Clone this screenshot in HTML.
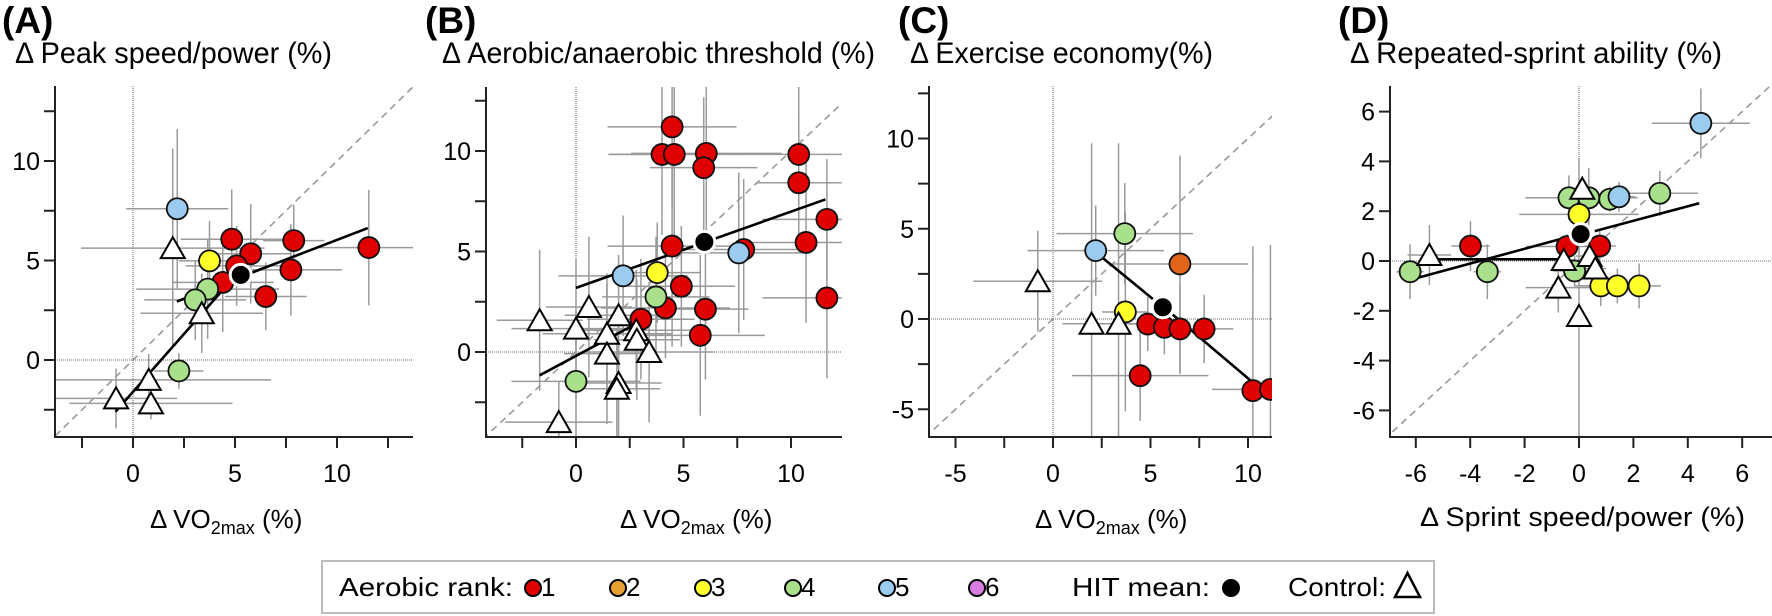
<!DOCTYPE html>
<html><head><meta charset="utf-8">
<style>
html,body{margin:0;padding:0;background:#fff;}
svg{display:block;font-family:"Liberation Sans",Arial,sans-serif;}
</style></head>
<body>
<svg id="chart" width="1772" height="616" viewBox="0 0 1772 616" xmlns="http://www.w3.org/2000/svg">
<g>
<text x="2" y="33" font-size="37" font-weight="bold">(A)</text>
<text x="15" y="63" font-size="30" textLength="317" lengthAdjust="spacingAndGlyphs">Δ Peak speed/power (%)</text>
<text x="425" y="33" font-size="37" font-weight="bold">(B)</text>
<text x="442" y="63" font-size="30" textLength="433" lengthAdjust="spacingAndGlyphs">Δ Aerobic/anaerobic threshold (%)</text>
<text x="898" y="33" font-size="37" font-weight="bold">(C)</text>
<text x="910" y="63" font-size="30" textLength="303" lengthAdjust="spacingAndGlyphs">Δ Exercise economy(%)</text>
<text x="1338" y="33" font-size="37" font-weight="bold">(D)</text>
<text x="1350" y="63" font-size="30" textLength="372" lengthAdjust="spacingAndGlyphs">Δ Repeated-sprint ability (%)</text>
</g>
<g font-size="26">
<text x="150" y="528">Δ VO<tspan font-size="18" dy="6">2max</tspan><tspan dy="-6"> (%)</tspan></text>
<text x="620" y="528">Δ VO<tspan font-size="18" dy="6">2max</tspan><tspan dy="-6"> (%)</tspan></text>
<text x="1035" y="528">Δ VO<tspan font-size="18" dy="6">2max</tspan><tspan dy="-6"> (%)</tspan></text>
<text x="1420" y="526" font-size="27" textLength="325" lengthAdjust="spacingAndGlyphs">Δ Sprint speed/power (%)</text>
</g>
<g>
<rect x="322" y="561" width="1112" height="52" fill="#fff" stroke="#bbb" stroke-width="2"/>
<text x="339" y="596" font-size="26" textLength="174" lengthAdjust="spacingAndGlyphs">Aerobic rank:</text>
<g><circle cx="533" cy="588" r="8" fill="#e00000" stroke="#000" stroke-width="2"/><text x="541" y="596" font-size="26">1</text></g>
<g><circle cx="618" cy="588" r="8" fill="#e8a030" stroke="#000" stroke-width="2"/><text x="626" y="596" font-size="26">2</text></g>
<g><circle cx="703" cy="588" r="8" fill="#ffff2a" stroke="#000" stroke-width="2"/><text x="711" y="596" font-size="26">3</text></g>
<g><circle cx="793" cy="588" r="8" fill="#a8e08c" stroke="#000" stroke-width="2"/><text x="801" y="596" font-size="26">4</text></g>
<g><circle cx="887" cy="588" r="8" fill="#9ccbf0" stroke="#000" stroke-width="2"/><text x="895" y="596" font-size="26">5</text></g>
<g><circle cx="977" cy="588" r="8" fill="#d87ee0" stroke="#000" stroke-width="2"/><text x="985" y="596" font-size="26">6</text></g>
<text x="1072" y="596" font-size="26" textLength="138" lengthAdjust="spacingAndGlyphs">HIT mean:</text>
<circle cx="1231" cy="588" r="9" fill="#000"/>
<text x="1288" y="596" font-size="26" textLength="98" lengthAdjust="spacingAndGlyphs">Control:</text>
<path d="M1395,597 L1407.5,573 L1420,597 Z" fill="#fff" stroke="#000" stroke-width="2.5"/>
</g>
<g id="panels"></g>
</svg>
<script>
// colours by aerobic rank: 1 red, 2 orange, 3 yellow, 4 green, 5 blue; 0 = control triangle
// Panel A: ΔVO2max vs Δ peak speed/power
const aX = [4.84,5.77,5.08,4.4,7.88,7.74,6.51,11.56,3.75,2.17,3.66,3.05,2.25,1.95,3.37,0.77,-0.83,0.88];
const aY = [6.07,5.34,4.73,3.9,6.0,4.53,3.19,5.65,4.98,7.6,3.56,3.02,-0.55,5.62,2.35,-1.0,-1.93,-2.18];
const aRank = [1,1,1,1,1,1,1,1,3,5,4,4,4,0,0,0,0,0];
const aXerr = [2.5,2,2.5,2.5,1.5,2.5,2,2.5,1.5,2.5,3.5,2.5,1.2,4.5,3,6,3,4];
const aYerr = [2.5,2.5,2,2.5,1.8,2.3,1.7,2.9,2,4,2.5,2,0.9,5,2,1.3,1.5,0.8];
const aMean = [5.28,4.28];
const aFit = [[-0.86,-2.6,4.76,3.94],[2.15,2.94,11.51,6.63]];
// Panel B: ΔVO2max vs Δ threshold
const bX = [4.47,4.0,4.57,6.06,5.94,10.36,10.36,11.67,10.7,7.8,4.47,4.9,4.16,6.02,5.78,3.02,11.67,2.19,7.57,3.78,3.72,0,-1.69,0.6,0,1.98,1.44,2.8,2.83,1.44,3.4,1.98,1.9,-0.8];
const bY = [11.2,9.83,9.83,9.88,9.17,9.83,8.42,6.6,5.45,5.1,5.27,3.27,2.19,2.13,0.83,1.63,2.69,3.79,4.93,3.95,2.74,-1.46,1.58,2.24,1.16,1.83,0.91,1.08,0.61,-0.08,0.0,-1.54,-1.83,-3.49];
const bRank = [1,1,1,1,1,1,1,1,1,1,1,1,1,1,1,1,1,5,5,3,4,4,0,0,0,0,0,0,0,0,0,0,0,0];
const bXerr = [3,2.5,3,3.5,2.5,3,2,3,2.5,3,3,2.5,3,2,3,2.5,3,3,3,2,2.5,3,2,2,3,2.5,3,2.5,2,2,3,2,2,2.5];
const bYerr = [4,4,4,4,3.5,3.5,3.5,3,4,3.5,5,3,2.5,3.5,4,3,4,3,4,2.5,3,3.5,3.5,3.5,3.5,3,3,3,3,3.5,3.5,3,3,2];
const bMean = [5.97,5.48];
const bFit = [[-1.69,-1.16,3.38,1.74],[0,3.19,11.6,7.59]];
// Panel C: ΔVO2max vs Δ exercise economy
const cX = [4.86,5.71,6.51,7.75,4.47,10.25,11.15,6.51,3.68,2.19,3.71,-0.78,1.98,3.36];
const cY = [-0.28,-0.46,-0.55,-0.55,-3.14,-3.97,-3.9,3.05,4.73,3.79,0.39,2.09,-0.26,-0.26];
const cRank = [1,1,1,1,1,1,1,2,4,5,3,0,0,0];
const cXerr = [1,1,1.5,1.5,3.5,0.5,3,3.5,3.5,3.5,1.2,3.3,1.5,1.3];
const cYerr = [1.5,1.5,2.5,1.9,2.5,8,8,6,2.8,2.5,5.5,2.8,10,10];
const cMean = [5.63,0.65];
const cFit = [[2.19,3.7,5.12,1.11],[6.14,0.24,11.0,-4.2]];
// Panel D: Δ sprint speed/power vs Δ repeated-sprint ability
const dX = [-6.21,-3.37,-0.37,0.36,1.13,-0.16,2.97,1.47,4.48,0,0.8,1.41,2.21,-3.99,-0.44,0.76,-5.5,0.12,-0.56,0.39,0.6,-0.76,0];
const dY = [-0.43,-0.43,2.54,2.54,2.48,-0.4,2.72,2.58,5.53,1.87,-1.0,-1.0,-1.0,0.6,0.58,0.6,0.24,2.9,0.04,0.2,-0.3,-1.07,-2.21];
const dRank = [4,4,4,4,4,4,4,5,5,3,3,3,3,1,1,1,0,0,0,0,0,0,0];
const dXerr = [0.5,0.5,1.6,1.8,0.6,0.8,1.4,0.6,1.8,2.2,0.8,1.6,0.4,0.7,1.5,0.6,0.8,0.2,0.4,0.5,0.4,1.2,0.2];
const dYerr = [1.1,1.1,0.9,1.2,0.5,0.6,0.9,0.6,1.4,0.9,0.8,0.7,0.9,1.0,0.5,0.6,1.2,0.5,0.5,0.5,0.5,1.0,6.3];
const dMean = [0.06,1.08];
const dFit = [[-6.21,-0.76,-0.59,0.91],[0.58,1.2,4.42,2.32],[-5.5,0.07,-0.59,0.07]];

const colors = {1:'#e00000',2:'#e0641c',3:'#ffff2a',4:'#a8e08c',5:'#9ccbf0',6:'#d87ee0'};
const NS = 'http://www.w3.org/2000/svg';
function mk(tag, attrs, parent){const e=document.createElementNS(NS,tag);for(const k in attrs)e.setAttribute(k,attrs[k]);parent.appendChild(e);return e;}

const panels = [
 {id:'a',X:aX,Y:aY,R:aRank,EX:aXerr,EY:aYerr,M:aMean,F:aFit,x0:133,xs:20.4,y0:360,ys:19.9,L:55,B:437,T:86,Rt:413,xt:[-2.5,12.5,2.5],yt:[-2.5,12.5,2.5],xl:[0,5,10],yl:[0,5,10]},
 {id:'b',X:bX,Y:bY,R:bRank,EX:bXerr,EY:bYerr,M:bMean,F:bFit,x0:576,xs:21.5,y0:352,ys:20.1,L:486,B:437,T:87,Rt:842,xt:[-2.5,12.5,2.5],yt:[-2.5,12.5,2.5],xl:[0,5,10],yl:[0,5,10]},
 {id:'c',X:cX,Y:cY,R:cRank,EX:cXerr,EY:cYerr,M:cMean,F:cFit,x0:1053,xs:19.5,y0:319,ys:18.05,L:929,B:437,T:86,Rt:1272,xt:[-5,12.5,2.5],yt:[-5,12.5,2.5],xl:[-5,0,5,10],yl:[-5,0,5,10]},
 {id:'d',X:dX,Y:dY,R:dRank,EX:dXerr,EY:dYerr,M:dMean,F:dFit,x0:1579,xs:27.2,y0:261,ys:24.9,L:1390,B:437,T:86,Rt:1772,xt:[-6,6,2],yt:[-6,6,2],xl:[-6,-4,-2,0,2,4,6],yl:[-6,-4,-2,0,2,4,6]}
];
const root = document.getElementById('panels');
panels.forEach(p=>{
  const sx=v=>p.x0+v*p.xs, sy=v=>p.y0-v*p.ys;
  const g = mk('g',{},root);
  
  
  const clip = mk('clipPath',{id:'clip'+p.id},g);
  mk('rect',{x:p.L,y:p.T,width:p.Rt-p.L,height:p.B-p.T},clip);
  const plot = mk('g',{'clip-path':'url(#clip'+p.id+')'},g);
  const lo=Math.min((p.L-p.x0)/p.xs,(p.y0-p.B)/p.ys)-5, hi=20;
  const diag = mk('line',{x1:sx(lo),y1:sy(lo),x2:sx(hi),y2:sy(hi),stroke:'#999','stroke-width':1.6,'stroke-dasharray':'7,5'},plot);
  
  
  const zv = mk('line',{x1:sx(0),y1:p.T,x2:sx(0),y2:p.B,stroke:'#666','stroke-width':1,'stroke-dasharray':'1,1'},plot);
  
  
  const zh = mk('line',{x1:p.L,y1:sy(0),x2:p.Rt,y2:sy(0),stroke:'#666','stroke-width':1,'stroke-dasharray':'1,1'},plot);
  
  
  p.X.forEach((x,i)=>{
    const y=p.Y[i];
    const eg = mk('g',{stroke:'#9a9a9a','stroke-width':1.5},plot);
    
    
    mk('line',{x1:sx(x-p.EX[i]),y1:sy(y),x2:sx(x+p.EX[i]),y2:sy(y)},eg);
    mk('line',{x1:sx(x),y1:sy(y-p.EY[i]),x2:sx(x),y2:sy(y+p.EY[i])},eg);
  });
  p.F.forEach(f=>{
    const ln = mk('line',{x1:sx(f[0]),y1:sy(f[1]),x2:sx(f[2]),y2:sy(f[3]),stroke:'#000','stroke-width':2.6},plot);
    
    
  });
  p.X.forEach((x,i)=>{
    const cx=sx(x), cy=sy(p.Y[i]); let m;
    if(p.R[i]===0){
      m = mk('path',{d:`M${cx-12},${cy+10} L${cx},${cy-11} L${cx+12},${cy+10} Z`,fill:'#fff',stroke:'#000','stroke-width':2},plot);
      
    } else {
      m = mk('circle',{cx:cx,cy:cy,r:10.5,fill:colors[p.R[i]],stroke:'#111','stroke-width':1.8},plot);
      
    }
    
  });
  const mean = mk('circle',{cx:sx(p.M[0]),cy:sy(p.M[1]),r:10.5,fill:'#000',stroke:'#fff','stroke-width':3},plot);
  
  
  const ax = mk('g',{stroke:'#222','stroke-width':2},g);
  
  
  mk('line',{x1:p.L,y1:p.T,x2:p.L,y2:p.B+1},ax);
  mk('line',{x1:p.L,y1:p.B,x2:p.Rt,y2:p.B},ax);
  for(let v=p.xt[0]; v<=p.xt[1]+1e-6; v+=p.xt[2]){ if(sx(v)>p.L+2 && sx(v)<p.Rt-2) mk('line',{x1:sx(v),y1:p.B,x2:sx(v),y2:p.B+11},ax); }
  for(let v=p.yt[0]; v<=p.yt[1]+1e-6; v+=p.yt[2]){ if(sy(v)<p.B-2 && sy(v)>p.T) mk('line',{x1:p.L-11,y1:sy(v),x2:p.L,y2:sy(v)},ax); }
  p.xl.forEach(v=>{
    const t = mk('text',{x:sx(v),y:p.B+45,'font-size':25,'text-anchor':'middle'},g);
    t.textContent=v;
    
    
  });
  p.yl.forEach(v=>{
    const t = mk('text',{x:p.L-15,y:sy(v)+9,'font-size':25,'text-anchor':'end'},g);
    t.textContent=v;
    
    
  });
});
</script>
</body></html>
